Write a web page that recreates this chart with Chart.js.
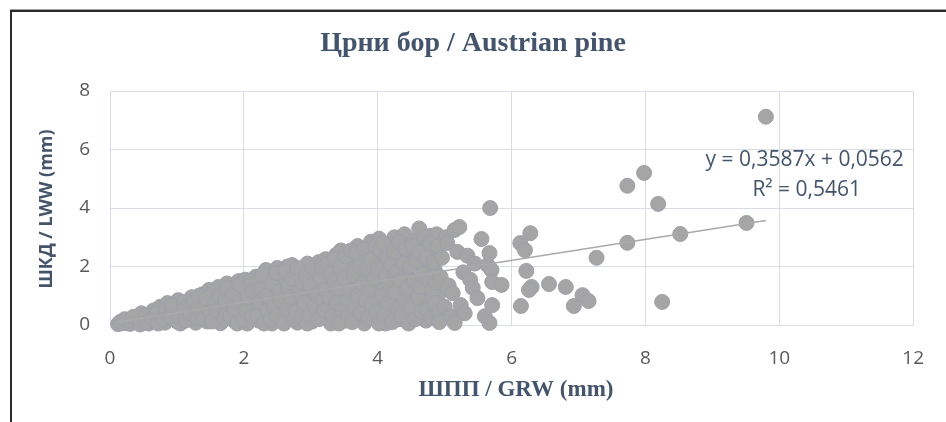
<!DOCTYPE html>
<html>
<head>
<meta charset="utf-8">
<script src="https://cdn.jsdelivr.net/npm/chart.js@4.4.1/dist/chart.umd.min.js"></script>
<style>
  html, body { margin: 0; padding: 0; background: #fff; }
  #wrap { position: relative; width: 946px; height: 422px; overflow: hidden; }
  #frame {
    position: absolute; left: 10px; top: 10px; width: 980px; height: 460px;
    border-left: 2px solid #2b2b2b; border-top: 2px solid #2b2b2b;
    box-shadow: 0 -1px 0 #a0a0a0; pointer-events: none;
  }
  canvas { position: absolute; left: 0; top: 0; }
</style>
</head>
<body>
<div id="wrap">
  <canvas id="chart" width="946" height="422"></canvas>
  <div id="frame"></div>
</div>
<script>
// ШПП / GRW (x) vs ШКД / LWW (y), values in mm
// dense wedge near the origin
const clusterPoints = [
  [0.12,0.03],[0.15,0.1],[0.2,0.06],[0.25,0.15],[0.3,0.04],
  [0.38,0.25],[0.42,0.08],[0.47,0.4],[0.5,0.18],
  [0.58,0.05],[0.6,0.3],[0.65,0.5],[0.68,0.15],
  [0.75,0.62],[0.78,0.35],[0.82,0.08],[0.86,0.75],[0.88,0.45],
  [0.95,0.2],[0.98,0.58],[1.02,0.85],[1.05,0.05],[1.08,0.4],
  [1.15,0.7],[1.18,0.25],[1.22,0.95],[1.25,0.5],[1.28,0.08],
  [1.35,0.35],[1.38,1.05],[1.42,0.75],[1.45,0.12],[1.48,1.2],[1.5,0.55],
  [1.55,0.9],[1.58,0.3],[1.62,1.3],[1.65,0.06],[1.68,0.65],[1.7,1.1],
  [1.75,1.42],[1.78,0.45],[1.82,0.85],[1.85,0.15],[1.88,1.2],[1.9,0.65],[1.92,1.5],
  [1.96,0.3],[1.98,1.0],[2.02,1.55],[2.05,0.05],[2.08,0.7],[2.1,1.3],
  [2.15,0.45],[2.18,1.65],[2.2,0.9],[2.22,0.15],[2.25,1.4],[2.28,0.62],[2.3,1.12],
  [2.33,1.88],[2.36,0.3],[2.38,1.6],[2.4,0.8],[2.42,0.05],[2.45,1.25],[2.48,0.5],[2.5,1.95],
  [2.52,1.0],[2.55,1.7],[2.58,0.2],[2.6,1.45],[2.62,0.7],[2.65,2.0],[2.68,1.2],[2.7,0.4],
  [2.72,2.05],[2.75,0.9],[2.78,1.6],[2.8,0.08],[2.82,1.3],[2.85,0.6],[2.88,1.85],[2.9,1.05],[2.92,0.3],
  [2.95,2.1],[2.98,1.5],[3.0,0.8],[3.02,0.12],[3.05,1.2],[3.08,1.8],[3.1,0.5],[3.12,2.15],[3.15,1.0],
  [3.18,0.25],[3.2,1.6],[3.22,2.25],[3.25,0.7],[3.28,1.35],[3.3,0.05],[3.32,1.95],[3.35,1.05],[3.38,2.4],
  [3.4,0.45],[3.42,1.7],[3.45,2.55],[3.48,0.9],[3.5,2.1],[3.52,0.15],[3.55,1.4],[3.58,0.65],[3.6,2.35],
  [3.62,1.15],[3.65,1.9],[3.68,0.3],[3.7,2.7],[3.72,1.55],[3.75,0.8],[3.78,2.2],[3.8,0.05],[3.82,1.3],[3.85,2.5],
  [3.86,0.55],[3.88,1.75],[3.9,2.85],[3.92,1.0],[3.95,2.05],[3.98,0.2],[4.0,1.45],[4.02,2.95],[4.05,0.7],[4.08,2.4],[4.1,1.2],
  [4.12,0.05],[4.15,1.85],[4.18,2.7],[4.2,0.45],[4.22,1.55],[4.25,3.0],[4.28,0.95],[4.3,2.2],[4.32,0.2],[4.35,1.3],[4.38,2.55],
  [4.4,3.1],[4.42,0.65],[4.45,1.75],[4.48,0.1],[4.5,2.35],[4.52,1.1],[4.55,2.9],[4.58,0.4],[4.6,1.5],[4.62,3.3],[4.65,2.05],
  [4.68,0.8],[4.7,2.65],[4.72,0.15],[4.75,1.25],[4.78,3.05],[4.8,2.5],[4.82,0.55],[4.85,1.9],[4.88,3.1],[4.9,1.0]
];
// second pass through the same wedge, filling the gaps
const clusterFill = [
  [0.22,0.2],[0.33,0.12],[0.35,0.28],
  [0.45,0.02],[0.53,0.32],[0.55,0.08],
  [0.63,0.22],[0.7,0.4],[0.72,0.05],
  [0.8,0.2],[0.84,0.55],[0.9,0.28],[0.92,0.68],
  [1.0,0.12],[1.05,0.3],[1.1,0.78],[1.12,0.55],[1.13,0.15],
  [1.2,0.4],[1.25,0.82],[1.3,0.25],[1.32,0.6],[1.33,1.0],
  [1.4,0.22],[1.44,0.9],[1.5,0.4],[1.52,0.12],[1.55,1.15],[1.57,0.7],
  [1.6,0.5],[1.64,1.0],[1.7,0.2],[1.72,0.85],[1.74,0.38],[1.76,1.25],
  [1.8,0.3],[1.84,1.05],[1.86,0.55],[1.9,0.05],[1.94,1.35],[1.95,0.8],
  [2.0,0.18],[2.03,0.5],[2.06,0.95],[2.1,1.5],[2.12,0.28],[2.14,1.15],
  [2.2,0.32],[2.23,0.78],[2.26,1.25],[2.28,1.72],[2.3,0.05],[2.34,1.0],[2.35,0.5],
  [2.4,0.18],[2.42,1.42],[2.45,0.65],[2.48,1.78],[2.5,0.3],[2.53,1.15],[2.55,0.85],
  [2.6,0.05],[2.62,1.85],[2.64,0.55],[2.66,1.3],[2.7,0.95],[2.72,1.58],[2.74,0.2],
  [2.78,0.45],[2.8,1.95],[2.83,1.15],[2.86,0.3],[2.88,1.45],[2.9,0.75],[2.93,1.7],[2.95,0.05],
  [2.98,0.35],[3.0,1.35],[3.03,1.95],[3.06,0.65],[3.1,1.05],[3.12,0.2],[3.15,1.6],[3.16,2.0],[3.18,0.85],
  [3.2,0.5],[3.22,1.2],[3.25,2.1],[3.28,0.95],[3.3,1.75],[3.33,0.3],[3.35,1.5],[3.36,2.25],[3.38,0.75],
  [3.4,1.25],[3.42,0.05],[3.45,1.95],[3.47,0.55],[3.5,1.6],[3.52,2.35],[3.55,0.9],[3.56,0.3],[3.58,1.15],[3.6,2.55],
  [3.62,0.1],[3.64,1.7],[3.66,0.6],[3.68,2.45],[3.7,1.0],[3.73,2.0],[3.75,0.4],[3.77,1.4],[3.8,2.6],[3.82,0.85],
  [3.84,1.95],[3.86,0.25],[3.88,1.2],[3.9,2.25],[3.92,0.7],[3.95,1.6],[3.97,2.7],[3.98,0.45],[4.0,1.9],[4.02,0.05],[4.04,2.55],
  [4.06,1.0],[4.08,2.8],[4.1,0.35],[4.12,1.65],[4.14,2.3],[4.16,0.75],[4.18,1.35],[4.2,2.05],[4.22,0.1],[4.24,2.5],[4.26,1.1],
  [4.28,1.8],[4.3,0.55],[4.32,2.85],[4.34,1.5],[4.36,0.3],[4.38,2.1],[4.4,0.9],[4.42,2.6],[4.44,1.25],[4.46,0.05],[4.48,2.0],
  [4.5,0.6],[4.52,2.7],[4.54,1.5],[4.56,0.2],[4.58,2.2],[4.6,0.95],[4.62,2.5],[4.64,1.3],[4.66,0.45],[4.68,1.75],[4.7,3.0],
  [4.72,2.3],[4.74,0.5],[4.76,1.55],[4.78,2.8],[4.8,0.25],[4.82,1.2],[4.84,2.15],[4.86,0.75],[4.88,1.45],[4.9,2.7],[4.92,0.4]
];
// thinner edge of the wedge
const sparsePoints = [
  [4.92,0.1],[4.94,1.64],[4.96,2.3],[5.0,0.62],[5.02,3.0],[5.04,2.8],[5.06,1.35],[5.1,0.3],
  [5.12,1.09],[5.15,3.25],[5.15,0.07],[5.19,2.5],[5.22,3.35],[5.24,0.68],[5.28,1.8],[5.3,0.4],
  [5.34,2.37],[5.38,1.55],[5.42,1.27],[5.45,2.1],[5.49,0.92],[5.55,2.94],[5.6,0.3],[5.64,2.05],
  [5.67,2.46],[5.67,0.07],[5.68,4.0],[5.7,1.88],[5.71,1.47],[5.71,0.68],[5.85,1.37]
];
// isolated points
const outlierPoints = [
  [6.13,2.8],[6.2,2.56],[6.28,3.14],[6.22,1.85],[6.3,1.3],[6.26,1.2],[6.14,0.65],
  [6.56,1.4],[6.81,1.3],[6.93,0.65],[7.06,1.02],[7.15,0.82],[7.27,2.3],[7.73,2.81],
  [7.73,4.76],[7.98,5.2],[8.19,4.14],[8.25,0.79],[8.52,3.11],[9.51,3.49],[9.8,7.12]
];
// linear trend, Excel style: y = 0,3587x + 0,0562
const trendSlope = 0.3587;
const trendIntercept = 0.0562;
const trendRange = [0.1, 9.8];

const xTicks = [0, 2, 4, 6, 8, 10, 12];
const yTicks = [0, 2, 4, 6, 8];

const allPoints = clusterPoints.concat(clusterFill, sparsePoints, outlierPoints).map(p => ({ x: p[0], y: p[1] }));
const trendData = trendRange.map(x => ({ x: x, y: trendSlope * x + trendIntercept }));

const gridColor = '#d9dde6';
const textColor = '#595959';
const titleColor = '#44546a';

const textsPlugin = {
  id: 'texts',
  afterDraw(chart) {
    const ctx = chart.ctx;
    const xs = chart.scales.x, ys = chart.scales.y;
    ctx.save();
    ctx.textAlign = 'center';
    ctx.textBaseline = 'middle';
    ctx.fillStyle = titleColor;
    ctx.font = 'bold 28px "Liberation Serif"';
    ctx.fillText('Црни бор / Austrian pine', 473, 44);
    ctx.font = 'bold 23px "Liberation Serif"';
    ctx.fillText('ШПП / GRW (mm)', 516, 390);
    ctx.save();
    ctx.translate(47, 209);
    ctx.rotate(-Math.PI / 2);
    ctx.font = 'bold 18px "Open Sans"';
    ctx.fillText('ШКД / LWW (mm)', 0, 0);
    ctx.restore();
    // trendline label
    ctx.font = '21px "Open Sans"';
    ctx.fillText('y = 0,3587x + 0,0562', xs.getPixelForValue(10.38), ys.getPixelForValue(5.64));
    ctx.fillText('R² = 0,5461', xs.getPixelForValue(10.41), ys.getPixelForValue(4.62));
    ctx.restore();
  }
};

new Chart(document.getElementById('chart'), {
  type: 'scatter',
  data: {
    datasets: [
      {
        type: 'line',
        data: trendData,
        borderColor: '#a9a9a9',
        borderWidth: 1.5,
        pointRadius: 0,
        fill: false,
        order: 0
      },
      {
        data: allPoints,
        backgroundColor: '#a5a5a5',
        borderColor: '#9ea1a8',
        borderWidth: 1,
        pointRadius: 7.5,
        clip: false,
        order: 1
      }
    ]
  },
  options: {
    responsive: false,
    animation: false,
    layout: { padding: { top: 91, right: 24, left: 0, bottom: 0 } },
    plugins: { legend: { display: false }, tooltip: { enabled: false } },
    scales: {
      x: {
        type: 'linear', min: 0, max: 12,
        afterBuildTicks: s => { s.ticks = xTicks.map(v => ({ value: v })); },
        afterFit: s => { s.height = 97; },
        ticks: { color: textColor, font: { family: 'Open Sans', size: 19 }, padding: 22 },
        grid: { color: gridColor, drawTicks: false },
        border: { color: gridColor }
      },
      y: {
        type: 'linear', min: 0, max: 8,
        afterBuildTicks: s => { s.ticks = yTicks.map(v => ({ value: v })); },
        afterFit: s => { s.width = 110; },
        ticks: { color: textColor, font: { family: 'Open Sans', size: 19 }, padding: 20 },
        grid: { color: gridColor, drawTicks: false },
        border: { color: gridColor }
      }
    }
  },
  plugins: [textsPlugin]
});
</script>
</body>
</html>
